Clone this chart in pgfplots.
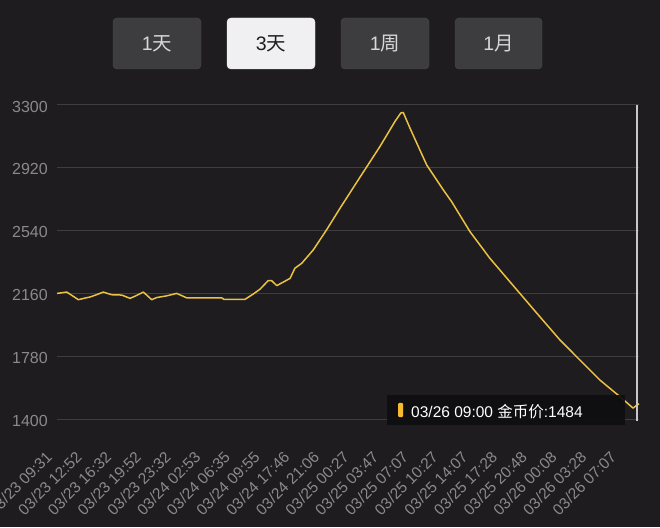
\documentclass[border=0pt]{standalone}
\usepackage{fontspec}
\setmainfont{Liberation Sans}
\newfontfamily\cjk{Noto Sans CJK SC}
\usepackage{pgfplots}
\pgfplotsset{compat=1.18}
\definecolor{bgc}{RGB}{30,28,31}
\definecolor{gridc}{RGB}{62,61,64}
\definecolor{linec}{RGB}{235,193,66}
\definecolor{tickc}{RGB}{138,137,142}
\definecolor{btnfill}{RGB}{61,60,63}
\definecolor{btnborder}{RGB}{76,75,78}
\definecolor{btnwhite}{RGB}{240,239,242}
\definecolor{btntext}{RGB}{215,214,218}
\definecolor{tipbg}{RGB}{14,13,15}
\definecolor{tipbar}{RGB}{246,186,48}
\definecolor{ptrc}{RGB}{200,200,204}

\pgfplotstableread{
x y
0 2160
3.3 2168
7.2 2122
9.5 2132
11.1 2138
13 2150
15.6 2168
18.4 2152
21.8 2150
24.6 2130
26.5 2145
29.1 2168
31.9 2122
33.6 2135
36.9 2145
40.3 2160
43.7 2133
55.5 2133
56.2 2124
63.3 2124
66.0 2155
68.4 2186
71.1 2237
72.3 2237
74.0 2207
78.5 2251
80.1 2312
82.4 2342
86.3 2423
90.8 2545
95.3 2675
102.0 2862
108.8 3050
113.8 3200
115.8 3252
116.6 3255
118.9 3159
124.5 2937
130.1 2786
132.9 2715
139.1 2533
145.8 2372
152.5 2231
162.6 2019
169.4 1878
177.2 1737
182.8 1636
189.6 1535
194.0 1466
195.3 1484
196 1492
}\pricedata

\begin{document}
\begin{tikzpicture}
\useasboundingbox (0,0) rectangle (660pt,527pt);
\fill[bgc] (0,0) rectangle (660pt,527pt);
% buttons
\draw[btnborder, fill=btnfill, rounded corners=4pt] (113pt,458pt) rectangle (201pt,509pt);
\draw[btnwhite, fill=btnwhite, rounded corners=4pt] (227pt,458pt) rectangle (315pt,509pt);
\draw[btnborder, fill=btnfill, rounded corners=4pt] (341pt,458pt) rectangle (429pt,509pt);
\draw[btnborder, fill=btnfill, rounded corners=4pt] (455pt,458pt) rectangle (542pt,509pt);
\node[text=btntext, font=\fontsize{19.5}{19.5}\selectfont] at (157pt,483.5pt) {1{\cjk 天}};
\node[text=black!88, font=\fontsize{19.5}{19.5}\selectfont] at (271pt,483.5pt) {3{\cjk 天}};
\node[text=btntext, font=\fontsize{19.5}{19.5}\selectfont] at (385pt,483.5pt) {1{\cjk 周}};
\node[text=btntext, font=\fontsize{19.5}{19.5}\selectfont] at (498.5pt,483.5pt) {1{\cjk 月}};

\begin{axis}[
  at={(57pt,108pt)}, anchor=south west,
  scale only axis, width=582pt, height=314pt,
  xmin=0, xmax=196, ymin=1400, ymax=3300,
  clip=false,
  axis line style={draw=none},
  major tick length=0pt,
  ymajorgrids, grid style={gridc, line width=1pt},
  ytick={1400,1780,2160,2540,2920,3300},
  yticklabels={1400,1780,2160,2540,2920,3300},
  xtick={0,10,...,190},
  xticklabels={03/23 09:31,03/23 12:52,03/23 16:32,03/23 19:52,03/23 23:32,03/24 02:53,03/24 06:35,03/24 09:55,03/24 17:46,03/24 21:06,03/25 00:27,03/25 03:47,03/25 07:07,03/25 10:27,03/25 14:07,03/25 17:28,03/25 20:48,03/26 00:08,03/26 03:28,03/26 07:07},
  /pgf/number format/assume math mode=true,
  yticklabel style={anchor=east, inner sep=0pt, xshift=-9pt, yshift=-1.5pt, text=tickc, font=\fontsize{16}{16}\selectfont},
  xticklabel style={xshift=-12pt, yshift=-31pt, rotate=45, anchor=north east, inner sep=0pt, text=tickc, font=\fontsize{15.5}{15.5}\selectfont},
]
\addplot[linec, line width=1.5pt, line join=round] table[x=x,y=y] {\pricedata};
\addplot[ptrc, line width=1.2pt] coordinates {(195.3,1390) (195.3,3300)};
\end{axis}

% tooltip
\fill[tipbg, opacity=0.92] (387pt,102pt) rectangle (625pt,132pt);
\fill[tipbar, rounded corners=1pt] (398pt,110pt) rectangle (403pt,124pt);
\node[anchor=base west, inner sep=0pt, text=white, font=\fontsize{15.5}{15.5}\selectfont] at (411pt,110pt) {03/26 09:00 {\cjk 金币价}:1484};
\end{tikzpicture}
\end{document}
